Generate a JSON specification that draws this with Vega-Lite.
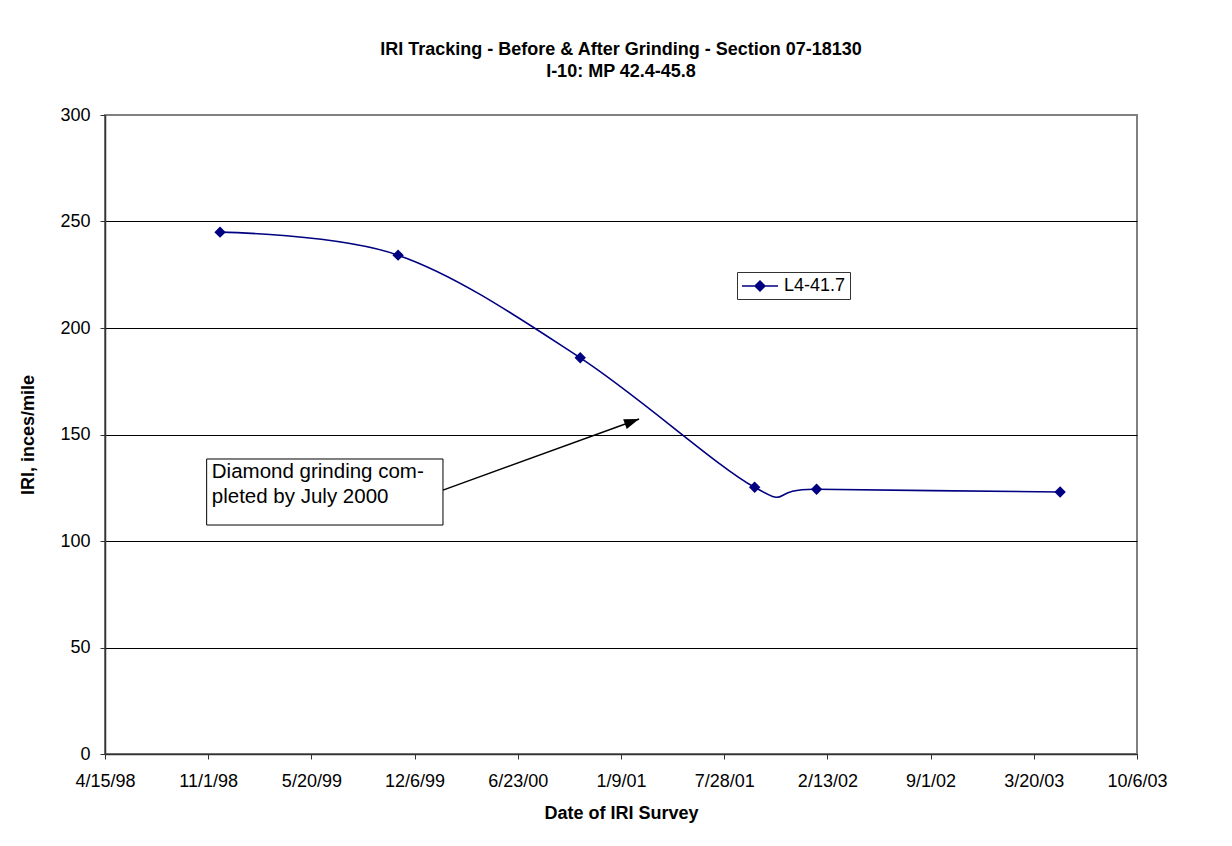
{
  "$schema": "https://vega.github.io/schema/vega-lite/v6.json",
  "autosize": {"type": "none"},
  "width": 1032,
  "height": 639,
  "padding": {"left": 105, "top": 115, "right": 95, "bottom": 92},
  "background": "white",
  "config": {
    "font": "Liberation Sans",
    "view": {"stroke": "#808080", "strokeWidth": 2},
    "axis": {
      "labelFont": "Liberation Sans",
      "titleFont": "Liberation Sans",
      "labelFontSize": 18,
      "titleFontSize": 18,
      "labelColor": "black",
      "titleColor": "black",
      "titleFontWeight": "bold",
      "tickColor": "#333333",
      "domainColor": "#333333",
      "domainWidth": 1.5,
      "tickSize": 5,
      "tickWidth": 1
    }
  },
  "title": {
    "text": ["IRI Tracking - Before & After Grinding - Section 07-18130", "I-10: MP 42.4-45.8"],
    "font": "Liberation Sans",
    "fontSize": 18,
    "fontWeight": "bold",
    "color": "black",
    "anchor": "middle",
    "lineHeight": 22,
    "offset": 25
  },
  "datasets": {
    "iri": [
      {"date": "1998-11-24", "iri": 245.0, "series": "L4-41.7"},
      {"date": "1999-11-04", "iri": 234.2, "series": "L4-41.7"},
      {"date": "2000-10-22", "iri": 186.0, "series": "L4-41.7"},
      {"date": "2001-09-25", "iri": 125.2, "series": "L4-41.7"},
      {"date": "2002-01-23", "iri": 124.3, "series": "L4-41.7"},
      {"date": "2003-05-10", "iri": 123.0, "series": "L4-41.7"}
    ],
    "box": [
      {"date": "1998-10-29", "date2": "2000-01-30", "iri": 138.5, "iri2": 107.5}
    ],
    "note": [
      {"date": "1998-11-08", "iri": 132.2, "label": "Diamond grinding com-\npleted by July 2000"}
    ],
    "arrow": [
      {"date": "2000-01-30", "iri": 123.9, "date2": "2001-02-13", "iri2": 157.3}
    ],
    "arrowhead": [
      {"date": "2001-02-13", "iri": 157.3}
    ]
  },
  "encoding": {
    "x": {
      "field": "date", "type": "temporal",
      "scale": {"type": "utc", "domain": [{"utc": true, "year": 1998, "month": 4, "date": 15}, {"utc": true, "year": 2003, "month": 10, "date": 6}]},
      "axis": {
        "title": "Date of IRI Survey",
        "format": "%-m/%-d/%y",
        "formatType": "utc",
        "labelExpr": "utcFormat(datum.value, '%-m/%-d/%y')",
        "grid": false,
        "labelPadding": 13,
        "titlePadding": 14,
        "values": [
          {"utc": true, "year": 1998, "month": 4, "date": 15},
          {"utc": true, "year": 1998, "month": 11, "date": 1},
          {"utc": true, "year": 1999, "month": 5, "date": 20},
          {"utc": true, "year": 1999, "month": 12, "date": 6},
          {"utc": true, "year": 2000, "month": 6, "date": 23},
          {"utc": true, "year": 2001, "month": 1, "date": 9},
          {"utc": true, "year": 2001, "month": 7, "date": 28},
          {"utc": true, "year": 2002, "month": 2, "date": 13},
          {"utc": true, "year": 2002, "month": 9, "date": 1},
          {"utc": true, "year": 2003, "month": 3, "date": 20},
          {"utc": true, "year": 2003, "month": 10, "date": 6}
        ],
        "labelOverlap": false,
        "labelFlush": false
      }
    },
    "y": {
      "field": "iri", "type": "quantitative",
      "scale": {"domain": [0, 300], "nice": false, "zero": true},
      "axis": {
        "title": "IRI, inces/mile",
        "values": [0, 50, 100, 150, 200, 250, 300],
        "grid": true,
        "gridColor": {"condition": {"test": "datum.value === 300", "value": "#808080"}, "value": "black"},
        "gridWidth": 1,
        "labelPadding": 10,
        "titlePadding": 22
      }
    }
  },
  "layer": [
    {
      "data": {"name": "iri"},
      "mark": {"type": "line", "interpolate": "cardinal", "color": "#000080", "strokeWidth": 1.6}
    },
    {
      "data": {"name": "iri"},
      "mark": {"type": "point", "shape": "diamond", "filled": true, "size": 130, "opacity": 1},
      "encoding": {
        "color": {
          "field": "series", "type": "nominal",
          "scale": {"range": ["#000080"]},
          "legend": {
            "title": null,
            "orient": "none",
            "legendX": 632,
            "legendY": 157,
            "direction": "vertical",
            "strokeColor": "#333333",
            "fillColor": "white",
            "padding": 4,
            "labelFont": "Liberation Sans",
            "labelFontSize": 18,
            "labelColor": "black",
            "labelOffset": 14,
            "symbolOffset": 9,
            "symbolType": "M-2,0L2,0M0,-0.55L0.55,0L0,0.55L-0.55,0Z",
            "symbolSize": 324,
            "symbolStrokeColor": "#000080",
            "symbolFillColor": "#000080",
            "symbolStrokeWidth": 1.5,
            "encode": {"legend": {"update": {"strokeWidth": {"value": 1.5}}}}
          }
        }
      }
    },
    {
      "data": {"name": "box"},
      "mark": {"type": "rect", "fill": "white", "stroke": "black", "strokeWidth": 1},
      "encoding": {
        "x2": {"field": "date2"},
        "y2": {"field": "iri2"}
      }
    },
    {
      "data": {"name": "note"},
      "mark": {"type": "text", "align": "left", "baseline": "middle", "fontSize": 20.5, "font": "Liberation Sans", "color": "black", "lineBreak": "\n", "lineHeight": 25},
      "encoding": {
        "text": {"field": "label"}
      }
    },
    {
      "data": {"name": "arrow"},
      "mark": {"type": "rule", "color": "black", "strokeWidth": 1.5},
      "encoding": {
        "x2": {"field": "date2"},
        "y2": {"field": "iri2"}
      }
    },
    {
      "data": {"name": "arrowhead"},
      "mark": {"type": "point", "shape": "M0,0L-2,-0.7L-2,0.7Z", "size": 225, "filled": true, "color": "black", "opacity": 1, "angle": 340}
    }
  ]
}
